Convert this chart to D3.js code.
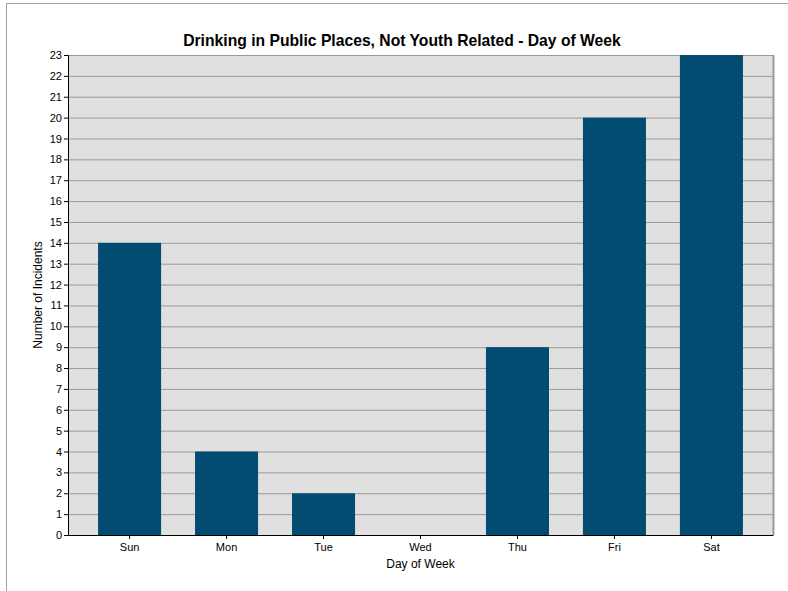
<!DOCTYPE html>
<html>
<head>
<meta charset="utf-8">
<script src="https://cdn.jsdelivr.net/npm/d3@7"></script>
<style>
  body { margin: 0; background: #fff; }
  text { font-family: "Liberation Sans", Arial, sans-serif; }
</style>
</head>
<body>
<script>
const days = ["Sun", "Mon", "Tue", "Wed", "Thu", "Fri", "Sat"];
const incidents = [14, 4, 2, 0, 9, 20, 23];
const yTicks = d3.range(0, 24);

const w = 788;
const h = 591;
const margin = { top: 55, right: 15, bottom: 56, left: 68 };
const innerW = w - margin.left - margin.right;
const innerH = h - margin.top - margin.bottom;

const svg = d3.select("body").append("svg").attr("width", w).attr("height", h);

// outer frame (only top/left visible in the picture)
svg.append("path")
  .attr("d", "M6.5,591 L6.5,3.5 L788,3.5")
  .attr("fill", "none")
  .attr("stroke", "#a0a0a0");

const x = d3.scaleBand()
  .domain(days)
  .range([0, innerW])
  .paddingInner(0.35)
  .paddingOuter(0.31);

const y = d3.scaleLinear().domain([0, 23]).range([innerH, 0]);

const g = svg.append("g").attr("transform", `translate(${margin.left},${margin.top})`);

g.append("rect")
  .attr("width", innerW)
  .attr("height", innerH)
  .attr("fill", "#e0e0e0");

// gridlines
g.selectAll("line.grid")
  .data(yTicks.slice(1))
  .enter()
  .append("line")
  .attr("class", "grid")
  .attr("x1", 0)
  .attr("x2", innerW)
  .attr("y1", (d) => y(d) + 0.5)
  .attr("y2", (d) => y(d) + 0.5)
  .attr("stroke", "#9a9a9a")
  .attr("stroke-width", 1);

// right border
g.append("line")
  .attr("x1", innerW + 0.5)
  .attr("x2", innerW + 0.5)
  .attr("y1", 0)
  .attr("y2", innerH)
  .attr("stroke", "#9a9a9a")
  .attr("stroke-width", 2);

g.selectAll("rect.bar")
  .data(incidents)
  .enter()
  .append("rect")
  .attr("class", "bar")
  .attr("x", (d, i) => x(days[i]))
  .attr("y", (d) => y(d))
  .attr("width", x.bandwidth())
  .attr("height", (d) => innerH - y(d))
  .attr("fill", "#024b71");

// axes
const yAxis = d3.axisLeft(y).tickValues(yTicks).tickSize(4).tickPadding(2).tickFormat(d3.format("d"));
const yg = g.append("g").call(yAxis);
yg.select(".domain").attr("stroke", "#000");
yg.selectAll("text").attr("font-size", 11).attr("fill", "#000");

const xAxis = d3.axisBottom(x).tickSize(4).tickSizeOuter(0).tickPadding(4);
const xg = g.append("g").attr("transform", `translate(0,${innerH})`).call(xAxis);
xg.select(".domain").attr("stroke", "#000");
xg.selectAll("text").attr("font-size", 11).attr("fill", "#000");

svg.append("text")
  .attr("x", 402)
  .attr("y", 46)
  .attr("text-anchor", "middle")
  .attr("font-size", 15.7)
  .attr("font-weight", "bold")
  .text("Drinking in Public Places, Not Youth Related - Day of Week");

svg.append("text")
  .attr("x", margin.left + innerW / 2)
  .attr("y", 568)
  .attr("text-anchor", "middle")
  .attr("font-size", 12)
  .text("Day of Week");

svg.append("text")
  .attr("transform", `translate(42,${margin.top + innerH / 2}) rotate(-90)`)
  .attr("text-anchor", "middle")
  .attr("font-size", 12)
  .text("Number of Incidents");
</script>
</body>
</html>
